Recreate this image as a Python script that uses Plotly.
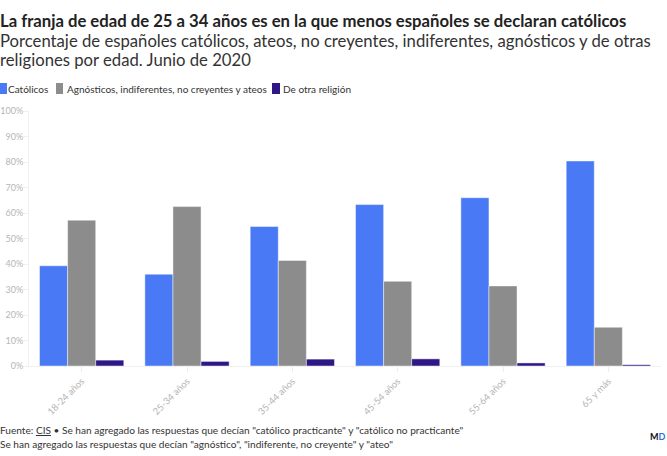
import plotly.graph_objects as go

# Data
ages = ["18-24 años", "25-34 años", "35-44 años", "45-54 años", "55-64 años", "65 y más"]
catolicos = [39.3, 36.0, 54.7, 63.3, 66.0, 80.4]
agnosticos = [57.2, 62.5, 41.4, 33.2, 31.4, 15.2]
otra = [2.3, 1.8, 2.7, 2.8, 1.2, 0.5]
y_ticks = [0, 10, 20, 30, 40, 50, 60, 70, 80, 90, 100]
y_labels = [f"{v}%" for v in y_ticks]
series_names = ["Católicos", "Agnósticos, indiferentes, no creyentes y ateos", "De otra religión"]
colors = ["#4979f4", "#8c8c8c", "#2f1886"]

FONT = "Lato"
WIDTH, HEIGHT = 667, 456
M_L, M_R, M_T, M_B = 29, 6, 111, 90


# page pixels to paper coordinates, for the texts around the plot
def px(x):
    return (x - M_L) / (WIDTH - M_L - M_R)


def py(y):
    return 1 - (y - M_T) / (HEIGHT - M_T - M_B)


fig = go.Figure()
for name, values, color in zip(series_names, [catolicos, agnosticos, otra], colors):
    fig.add_trace(go.Bar(name=name, x=ages, y=values,
                         marker=dict(color=color, line=dict(color="rgba(255,255,255,0.45)", width=1))))

fig.update_layout(
    width=WIDTH,
    height=HEIGHT,
    autosize=False,
    paper_bgcolor="white",
    plot_bgcolor="white",
    font=dict(family=FONT, color="#333333"),
    barmode="group",
    bargap=0.2,
    bargroupgap=0,
    margin=dict(l=M_L, r=M_R, t=M_T, b=M_B, autoexpand=False),
    showlegend=False,
    xaxis=dict(tickangle=-45, tickfont=dict(size=9.5, color="#b5b5b5"), ticks="outside", ticklen=5,
               tickcolor="#eeeeee", showline=True, linecolor="#f0f0f0", showgrid=False, automargin=False),
    yaxis=dict(range=[0, 100], tickvals=y_ticks, ticktext=y_labels, tickfont=dict(size=9, color="#b5b5b5"),
               ticks="outside", ticklen=5, tickcolor="#f0f0f0", ticklabelstandoff=-2, showgrid=False,
               zeroline=False, showline=True, linecolor="#f0f0f0", automargin=False),
)


def add_text(text, x, y, size, color="#333333", anchor="left"):
    fig.add_annotation(text=text, xref="paper", yref="paper", x=px(x), y=py(y), xanchor=anchor, yanchor="middle",
                       align="left", showarrow=False, borderpad=0, borderwidth=0,
                       font=dict(size=size, color=color, family=FONT))


# Title and subtitle
add_text("<b>La franja de edad de 25 a 34 años es en la que menos españoles se declaran católicos</b>", 0, 21, 16.7,
         "#222222")
add_text("Porcentaje de españoles católicos, ateos, no creyentes, indiferentes, agnósticos y de otras", 0, 41, 16.7)
add_text("religiones por edad. Junio de 2020", 0, 60, 16.7)

# Legend
swatches = [(0, 7), (56, 63), (272, 280)]
label_x = [8, 67, 283]
for name, color, (x0, x1), lx in zip(series_names, colors, swatches, label_x):
    fig.add_shape(type="rect", xref="paper", yref="paper", x0=px(x0), x1=px(x1), y0=py(94), y1=py(83),
                  fillcolor=color, line=dict(width=0))
    add_text(name, lx, 88.5, 10)

# Notes
add_text("Fuente: <u>CIS</u> • Se han agregado las respuestas que decían \"católico practicante\" y \"católico no practicante\"",
         0, 430, 10.1)
add_text("Se han agregado las respuestas que decían \"agnóstico\", \"indiferente, no creyente\" y \"ateo\"", 0, 444, 10.1)
add_text("<b>M<span style=\"color:#2f6fe0\">D</span></b>", 666, 436, 9, "#111111", anchor="right")

fig.write_html("out.html", config=dict(displayModeBar=False),
               post_script="document.body.style.margin='0';")
